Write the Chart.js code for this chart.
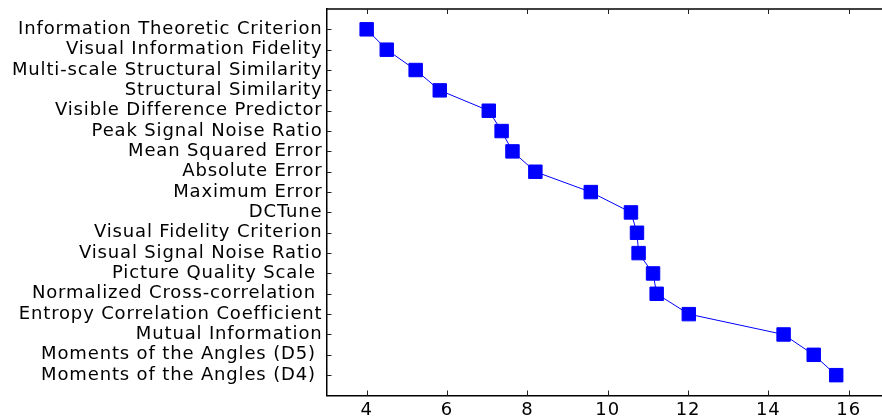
<!DOCTYPE html>
<html>
<head>
<meta charset="utf-8">
<script src="https://cdn.jsdelivr.net/npm/chart.js@4.4.1/dist/chart.umd.min.js"></script>
<style>
  html, body { margin: 0; padding: 0; background: #fff; }
  #wrap { width: 882px; height: 418px; }
</style>
</head>
<body>
<div id="wrap"><canvas id="metrics" width="882" height="418"></canvas></div>
<script>
// metric names, top to bottom
var metrics = [
  "Information Theoretic Criterion",
  "Visual Information Fidelity",
  "Multi-scale Structural Similarity",
  "Structural Similarity",
  "Visible Difference Predictor",
  "Peak Signal Noise Ratio",
  "Mean Squared Error",
  "Absolute Error",
  "Maximum Error",
  "DCTune",
  "Visual Fidelity Criterion",
  "Visual Signal Noise Ratio",
  "Picture Quality Scale ",
  "Normalized Cross-correlation ",
  "Entropy Correlation Coefficient",
  "Mutual Information",
  "Moments of the Angles (D5) ",
  "Moments of the Angles (D4) "
];

// mean rank per metric
var scores = [4.0, 4.5, 5.22, 5.82, 7.04, 7.36, 7.63, 8.2, 9.58,
  10.58, 10.73, 10.77, 11.13, 11.22, 12.02, 14.38, 15.13, 15.69];

var xTicks = [4, 6, 8, 10, 12, 14, 16];

var points = [];
for (var i = 0; i < scores.length; i++) {
  points.push({ x: scores[i], y: i + 1 });
}

var font = { family: "'DejaVu Sans', sans-serif", size: 18 };

// a little extra tracking so the labels run as wide as the old plot
var spacing = {
  id: "spacing",
  beforeLayout: function (chart) { chart.ctx.letterSpacing = "0.85px"; },
  beforeDraw: function (chart) { chart.ctx.letterSpacing = "0.85px"; }
};

// inner tick marks and the top frame line
var innerTicks = {
  id: "innerTicks",
  afterDraw: function (chart) {
    var ctx = chart.ctx;
    var area = chart.chartArea;
    var xs = chart.scales.x;
    var ys = chart.scales.y;
    ctx.save();
    ctx.strokeStyle = "#000";
    ctx.lineWidth = 1.5;
    ctx.beginPath();
    ctx.moveTo(area.left, area.top);
    ctx.lineTo(area.right, area.top);
    ctx.stroke();
    ctx.lineWidth = 1;
    ctx.strokeStyle = "#222";
    ctx.beginPath();
    xTicks.forEach(function (v) {
      var px = Math.round(xs.getPixelForValue(v)) + 0.5;
      ctx.moveTo(px, area.bottom);
      ctx.lineTo(px, area.bottom - 5);
      ctx.moveTo(px, area.top);
      ctx.lineTo(px, area.top + 5);
    });
    metrics.forEach(function (m, k) {
      var py = Math.round(ys.getPixelForValue(k + 1)) + 0.5;
      ctx.moveTo(area.left, py);
      ctx.lineTo(area.left + 5, py);
    });
    ctx.stroke();
    ctx.restore();
  }
};

new Chart(document.getElementById("metrics").getContext("2d"), {
  type: "line",
  data: {
    datasets: [
      {
        data: points,
        borderColor: "#0000ff",
        borderWidth: 1,
        backgroundColor: "#0000ff",
        pointStyle: "rect",
        pointRadius: 9.5,
        pointBorderWidth: 1,
        pointBackgroundColor: "#0000ff",
        pointBorderColor: "#0000ff",
        tension: 0,
        fill: false,
      },
    ],
  },
  options: {
    responsive: false,
    animation: false,
    devicePixelRatio: 1,
    layout: { autoPadding: false, padding: { top: 9, right: 0, bottom: 0, left: 0 } },
    plugins: {
      legend: { display: false },
      tooltip: { enabled: false },
    },
    scales: {
      x: {
        type: "linear",
        min: 3,
        max: 16.83,
        afterBuildTicks: function (scale) {
          scale.ticks = xTicks.map(function (v) { return { value: v }; });
        },
        afterFit: function (scale) {
          scale.height = 22.5;
          scale.paddingLeft = 0;
          scale.paddingRight = 0;
        },
        grid: { display: false, drawTicks: false },
        border: { display: true, color: "#000", width: 1.5 },
        ticks: { color: "#000", font: font, padding: 4, maxRotation: 0 },
      },
      y: {
        type: "linear",
        reverse: true,
        min: 0,
        max: 19,
        afterBuildTicks: function (scale) {
          scale.ticks = metrics.map(function (m, k) { return { value: k + 1 }; });
        },
        afterFit: function (scale) {
          scale.width = 326.5;
          scale.paddingTop = 0;
          scale.paddingBottom = 0;
        },
        grid: { display: false, drawTicks: false },
        border: { display: true, color: "#000", width: 1.5 },
        ticks: {
          color: "#000",
          font: font,
          padding: 4,
          autoSkip: false,
          callback: function (v) { return metrics[v - 1]; },
        },
      },
    },
  },
  plugins: [spacing, innerTicks],
});
</script>
</body>
</html>
